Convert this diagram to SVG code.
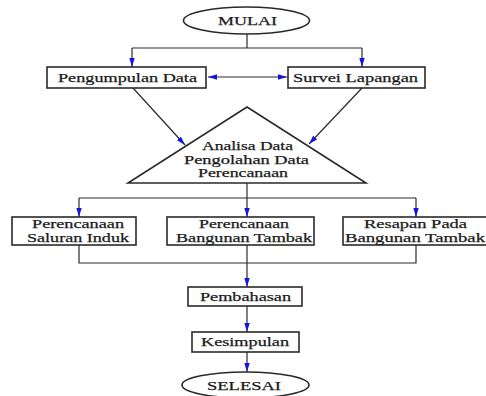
<svg xmlns="http://www.w3.org/2000/svg" width="486" height="396" viewBox="0 0 486 396">
<defs>
<marker id="ah" viewBox="0 0 10 6" refX="10" refY="3" markerWidth="9" markerHeight="5.5" markerUnits="userSpaceOnUse" orient="auto-start-reverse">
<path d="M0,0 L10,3 L0,6 Z" fill="#1515e0"/>
</marker>
</defs>
<style>
.shape{fill:#fff;stroke:#2a2a2a;stroke-width:1.6}
.ln{fill:none;stroke:#2a2a2a;stroke-width:1.2}
.t{font-family:"Liberation Serif","Times New Roman",serif;font-size:13.5px;fill:#1a1a1a;text-anchor:middle;stroke:#1a1a1a;stroke-width:0.25}
.s{font-size:12.5px}
</style>
<rect width="486" height="396" fill="#fff"/>
<g id="connectors">
<path class="ln" d="M247,34 V48"/>
<path class="ln" d="M132,48 H362"/>
<path class="ln" d="M132,48 V67" marker-end="url(#ah)"/>
<path class="ln" d="M362,48 V67" marker-end="url(#ah)"/>
<path class="ln" d="M208,77 H287" marker-start="url(#ah)" marker-end="url(#ah)"/>
<path class="ln" d="M133,88 L185,145" marker-end="url(#ah)"/>
<path class="ln" d="M362,88 L309,144" marker-end="url(#ah)"/>
<path class="ln" d="M247,183 V198"/>
<path class="ln" d="M79,198 H416"/>
<path class="ln" d="M79,198 V217" marker-end="url(#ah)"/>
<path class="ln" d="M247,198 V217" marker-end="url(#ah)"/>
<path class="ln" d="M416,198 V217" marker-end="url(#ah)"/>
<path class="ln" d="M79,245 V263 H416 V245"/>
<path class="ln" d="M247,245 V287" marker-end="url(#ah)"/>
<path class="ln" d="M247,306 V332" marker-end="url(#ah)"/>
<path class="ln" d="M247,352 V372" marker-end="url(#ah)"/>
</g>
<g id="mulai">
<ellipse class="shape" cx="246.5" cy="20.5" rx="63" ry="13.5"/>
<text class="t" x="247.5" y="25" textLength="59" lengthAdjust="spacingAndGlyphs">MULAI</text>
</g>
<g id="pengumpulan">
<rect class="shape" x="47" y="67" width="159" height="21"/>
<text class="t" x="127.5" y="81.5" textLength="139" lengthAdjust="spacingAndGlyphs">Pengumpulan Data</text>
</g>
<g id="survei">
<rect class="shape" x="288" y="67" width="137" height="21"/>
<text class="t" x="355.5" y="81.5" textLength="125" lengthAdjust="spacingAndGlyphs">Survei Lapangan</text>
</g>
<g id="analisa">
<path class="shape" d="M247,107 L366,183 L128,183 Z"/>
<text class="t s" x="247.5" y="150" textLength="91" lengthAdjust="spacingAndGlyphs">Analisa Data</text>
<text class="t s" x="246.5" y="163.5" textLength="125" lengthAdjust="spacingAndGlyphs">Pengolahan Data</text>
<text class="t s" x="243" y="177" textLength="90" lengthAdjust="spacingAndGlyphs">Perencanaan</text>
</g>
<g id="saluran">
<rect class="shape" x="12" y="217" width="124" height="28"/>
<text class="t" x="78" y="228" textLength="92" lengthAdjust="spacingAndGlyphs">Perencanaan</text>
<text class="t" x="78" y="241.5" textLength="102" lengthAdjust="spacingAndGlyphs">Saluran Induk</text>
</g>
<g id="bangunan">
<rect class="shape" x="167" y="217" width="147" height="28"/>
<text class="t" x="244" y="228" textLength="90" lengthAdjust="spacingAndGlyphs">Perencanaan</text>
<text class="t" x="244" y="241.5" textLength="136" lengthAdjust="spacingAndGlyphs">Bangunan Tambak</text>
</g>
<g id="resapan">
<rect class="shape" x="343" y="217" width="145" height="28"/>
<text class="t" x="415.5" y="228" textLength="103" lengthAdjust="spacingAndGlyphs">Resapan Pada</text>
<text class="t" x="415" y="241.5" textLength="140" lengthAdjust="spacingAndGlyphs">Bangunan Tambak</text>
</g>
<g id="pembahasan">
<rect class="shape" x="188" y="287" width="114" height="19"/>
<text class="t" x="245.5" y="300.5" textLength="91" lengthAdjust="spacingAndGlyphs">Pembahasan</text>
</g>
<g id="kesimpulan">
<rect class="shape" x="192" y="332" width="107" height="20"/>
<text class="t" x="245" y="346" textLength="88" lengthAdjust="spacingAndGlyphs">Kesimpulan</text>
</g>
<g id="selesai">
<ellipse class="shape" cx="245.5" cy="385" rx="63.5" ry="13"/>
<text class="t" x="244" y="389.5" textLength="74" lengthAdjust="spacingAndGlyphs">SELESAI</text>
</g>
</svg>
